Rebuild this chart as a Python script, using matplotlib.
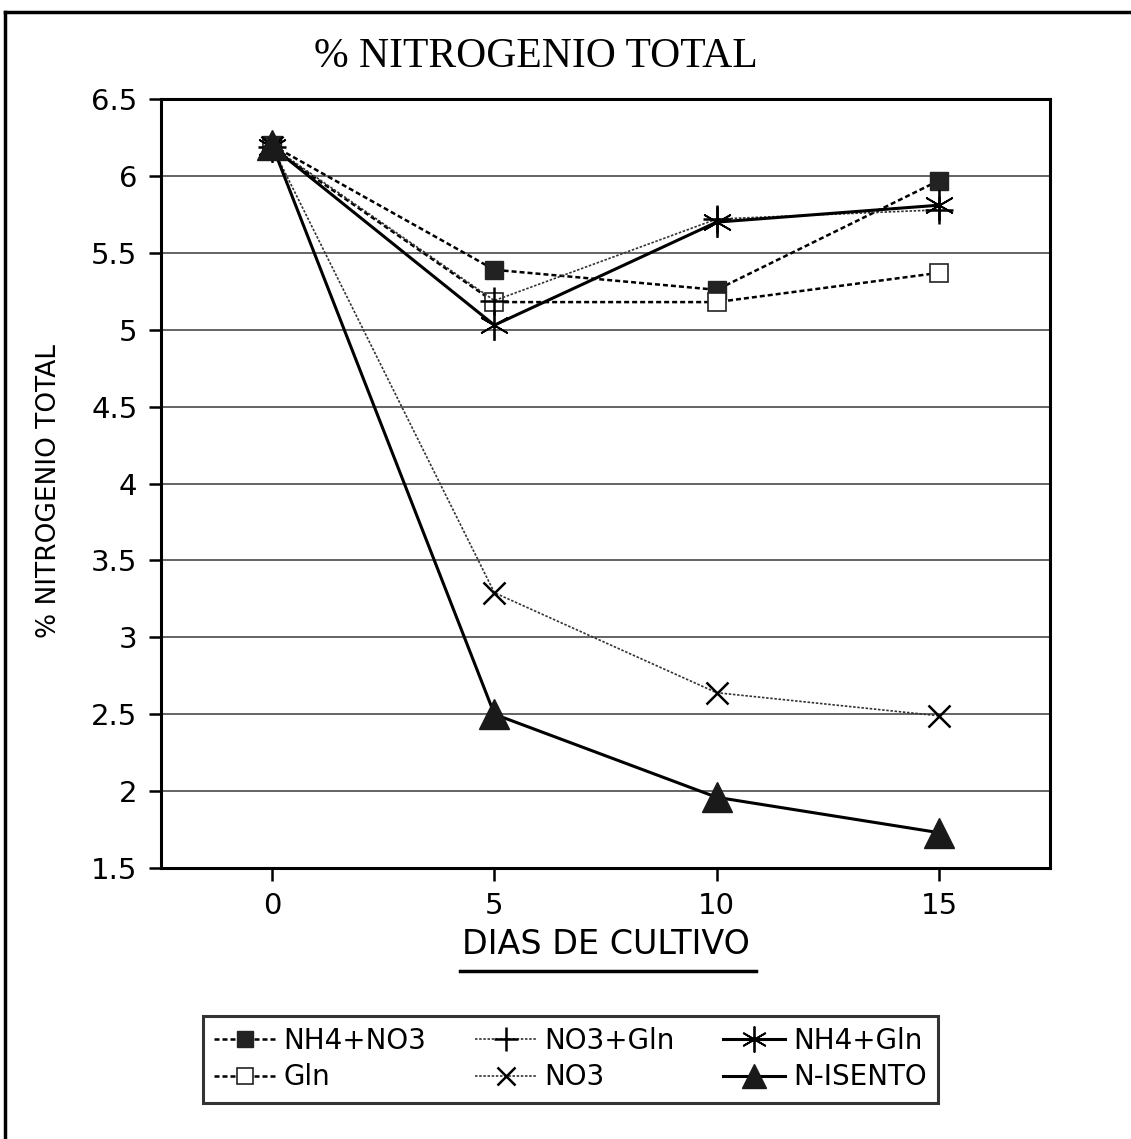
import matplotlib.pyplot as plt
from matplotlib.lines import Line2D

# Days of culture
dias = [0, 5, 10, 15]

# % total nitrogen per treatment
nh4_no3 = [6.20, 5.39, 5.26, 5.97]
no3_gln = [6.19, 5.19, 5.72, 5.78]
nh4_gln = [6.19, 5.03, 5.70, 5.81]
gln = [6.18, 5.18, 5.18, 5.37]
no3 = [6.19, 3.29, 2.64, 2.49]
n_isento = [6.20, 2.50, 1.96, 1.73]

y_ticks = [1.5, 2, 2.5, 3, 3.5, 4, 4.5, 5, 5.5, 6, 6.5]
y_tick_labels = ['1.5', '2', '2.5', '3', '3.5', '4', '4.5', '5', '5.5', '6', '6.5']
x_ticks = [0, 5, 10, 15]

plt.rcParams['font.family'] = ['DejaVu Sans']

fig = plt.figure(figsize=(11.31, 11.39), dpi=100)
ax = fig.add_axes([0.1424, 0.2379, 0.7860, 0.6751])

# Horizontal grid lines
for v in y_ticks[1:-1]:
    ax.axhline(v, color='#3a3a3a', lw=1.1, zorder=1)

dotted = (0, (2, 1.2))
ax.plot(dias, nh4_no3, color='black', lw=1.8, ls=dotted, marker='s',
        ms=13, mfc='#222222', mec='#222222', label='NH4+NO3', zorder=3)
ax.plot(dias, gln, color='black', lw=1.8, ls=dotted, marker='s',
        ms=13, mfc='white', mec='#222222', mew=1.2, label='Gln', zorder=3)
ax.plot(dias, no3_gln, color='#333333', lw=1.2, ls=(0, (1.5, 1)), marker='+',
        ms=20, mew=1.8, mec='black', label='NO3+Gln', zorder=4)
ax.plot(dias, no3, color='#333333', lw=1.2, ls=(0, (1.5, 1)), marker='x',
        ms=16, mew=1.8, mec='black', label='NO3', zorder=4)
ax.plot(dias, nh4_gln, color='black', lw=2.2, ls='-', marker=(6, 2, 0),
        ms=22, mew=1.3, mec='black', label='NH4+Gln', zorder=4)
ax.plot(dias, n_isento, color='black', lw=2.2, ls='-', marker='^',
        ms=21, mfc='#1a1a1a', mec='#1a1a1a', label='N-ISENTO', zorder=5)

ax.set_xlim(-2.5, 17.5)
ax.set_ylim(1.5, 6.5)
ax.set_yticks(y_ticks)
ax.set_yticklabels(y_tick_labels)
ax.set_xticks(x_ticks)
ax.tick_params(axis='both', direction='out', length=9, width=1.8,
               labelsize=21, pad=8)
for s in ax.spines.values():
    s.set_linewidth(2.2)

fig.text(536 / 1131, 1 - 57 / 1139, '% NITROGENIO TOTAL',
         family='Liberation Serif', fontsize=30, ha='center', va='center')
ax.set_xlabel('DIAS DE CULTIVO', fontsize=24, labelpad=6)
ax.set_ylabel('% NITROGENIO TOTAL', fontsize=19)
ax.yaxis.set_label_coords(-0.111, 0.49)

# Underline under the x-axis title
fig.add_artist(Line2D([460 / 1131, 756 / 1131], [1 - 971 / 1139, 1 - 971 / 1139],
                      color='black', lw=2.5))

# Outer frame (top and left)
fig.add_artist(Line2D([5 / 1131, 1.0], [1 - 12 / 1139, 1 - 12 / 1139],
                      color='black', lw=2.5))
fig.add_artist(Line2D([5 / 1131, 5 / 1131], [0.0, 1 - 12 / 1139],
                      color='black', lw=2.5))

handles, labels = ax.get_legend_handles_labels()
order = ['NH4+NO3', 'Gln', 'NO3+Gln', 'NO3', 'NH4+Gln', 'N-ISENTO']
h = [handles[labels.index(k)] for k in order]
leg = fig.legend(h, order, ncol=3, loc='upper left',
                 bbox_to_anchor=(203 / 1131, 1 - 1016 / 1139),
                 borderaxespad=0, fontsize=20,
                 frameon=True, fancybox=False, edgecolor='black',
                 handlelength=2.2, columnspacing=1.75, borderpad=0.4,
                 labelspacing=0.3, handletextpad=0.3, markerscale=0.85)
leg.get_frame().set_linewidth(2.2)

fig.savefig('out.png', dpi=100, facecolor='white')
